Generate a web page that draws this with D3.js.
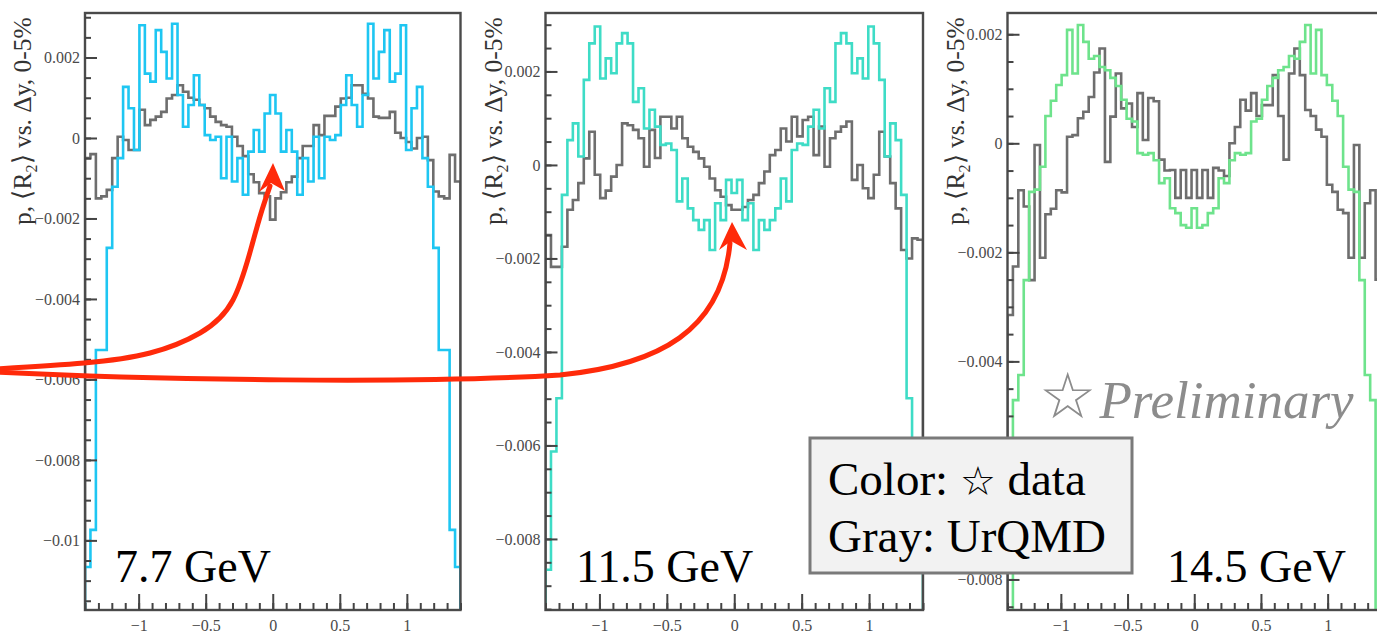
<!DOCTYPE html>
<html><head><meta charset="utf-8">
<script src="https://cdn.jsdelivr.net/npm/d3@7"></script>
<style>
html,body{margin:0;padding:0;background:#fff;}
svg{display:block;}
</style></head><body>
<svg id="chart" width="1377" height="635"></svg>
<script>
// Histogram binning in delta-y
const binLow = -1.4, binHigh = 1.4, binCount = 69;

const energies = ["7.7 GeV", "11.5 GeV", "14.5 GeV"];
const dataColors = ["#1ec6f2", "#3edcc6", "#6ee38c"];
const modelColor = "#6e6e6e";

// Bin contents, in units of 1e-3
const data77 = [-10.66, -9.74, -5.27, -5.27, -2.73, -1.21, -0.50, 1.27, 0.74, -0.30, 2.80, 1.60, 1.40, 2.68, 2.14, 1.48, 2.84, 1.07, 0.28, 0.82, 1.56, 0.82, 0.07, -0.05, 0.03, -1.00, 0.03, -1.08, -0.50, -1.41, -0.34, 0.20, -0.34, 0.61, 1.07, 0.61, -0.34, 0.20, -0.34, -1.41, -0.50, -1.08, 0.03, -1.00, 0.03, -0.05, 0.07, 0.82, 1.56, 0.82, 0.28, 1.07, 2.84, 1.48, 2.14, 2.68, 1.40, 1.60, 2.80, -0.30, 0.74, 1.27, -0.50, -1.21, -2.73, -5.27, -5.27, -9.74, -10.66];
const urqmd77 = [-0.50, -0.40, -1.50, -1.45, -1.29, -0.50, 0.03, -0.05, -0.30, -0.30, 0.70, 0.32, 0.45, 0.53, 0.65, 0.98, 1.07, 1.31, 1.15, 1.00, 0.95, 0.82, 0.74, 0.53, 0.40, 0.32, 0.28, 0.03, -0.20, -0.45, -0.90, -1.10, -1.37, -1.45, -2.03, -1.50, -1.35, -1.10, -0.96, -0.50, -0.20, -0.20, 0.32, 0.07, 0.55, 0.55, 0.78, 0.98, 1.00, 1.31, 1.31, 1.10, 0.98, 0.53, 0.50, 0.50, 0.65, 0.13, 0.00, -0.10, -0.26, 0.00, 0.03, -0.55, -1.33, -1.45, -1.50, -0.42, -1.08];

const data115 = [-8.66, -6.13, -4.99, -0.64, 0.53, 0.89, 0.18, 1.82, 2.60, 2.96, 1.85, 2.28, 1.96, 2.60, 2.82, 2.60, 1.35, 1.64, 0.78, 1.18, 0.82, 0.43, 0.46, 0.32, -0.78, -0.29, -0.93, -1.18, -1.39, -1.18, -1.82, -0.82, -1.18, -0.32, -0.60, -0.32, -1.18, -0.82, -1.82, -1.18, -1.39, -1.18, -0.93, -0.29, -0.78, 0.32, 0.46, 0.43, 0.82, 1.18, 0.78, 1.64, 1.35, 2.60, 2.82, 2.60, 1.96, 2.28, 1.85, 2.96, 2.60, 1.82, 0.18, 0.89, 0.53, -0.64, -4.99, -6.13, -8.66];
const urqmd115 = [-1.50, -2.18, -2.18, -1.75, -0.96, -0.75, -0.39, 0.14, 0.71, -0.21, -0.71, -0.55, -0.25, 0.00, 0.89, 0.85, 0.75, 0.57, -0.04, 0.75, 0.15, 1.03, 1.03, 0.78, 1.03, 0.57, 0.39, 0.28, 0.14, -0.04, -0.29, -0.54, -0.68, -0.86, -0.96, -0.96, -0.90, -0.75, -0.64, -0.39, -0.14, 0.21, 0.32, 0.78, 0.50, 1.03, 0.61, 0.96, 1.03, 0.21, 0.82, -0.04, 0.57, 0.71, 0.82, 0.93, -0.32, 0.00, -0.50, -0.71, -0.21, 0.71, 0.18, -0.39, -0.93, -1.82, -2.00, -1.57, -1.60];

const data145 = [-10.0, -4.71, -4.25, -2.51, -0.89, -0.85, -0.43, 0.50, 0.78, 1.07, 1.25, 2.08, 1.28, 2.17, 1.86, 1.55, 1.60, 1.40, 1.34, 1.20, 1.05, 0.80, 0.45, 0.40, -0.18, -0.21, -0.18, -0.31, -0.73, -0.64, -1.19, -1.28, -1.50, -1.55, -1.19, -1.55, -1.50, -1.28, -1.19, -0.64, -0.73, -0.31, -0.18, -0.21, -0.18, 0.40, 0.45, 0.80, 1.05, 1.20, 1.34, 1.40, 1.60, 1.55, 1.86, 2.17, 1.28, 2.08, 1.25, 1.07, 0.78, 0.50, -0.43, -0.85, -0.89, -2.51, -4.25, -4.71, -10.0];
const urqmd145 = [-3.15, -2.26, -0.86, -1.16, -2.51, -0.03, -2.10, -1.30, -1.20, -0.86, -0.90, 0.12, 0.15, 0.46, 0.58, 0.85, 1.30, 1.74, -0.34, 0.49, 1.28, 0.64, 0.73, 0.30, 0.92, 0.06, 0.83, 0.77, -0.30, -0.50, -0.49, -1.00, -0.49, -1.00, -0.49, -1.00, -0.49, -1.00, -0.45, -0.50, -0.60, 0.00, 0.30, 0.80, 0.60, 0.92, 0.50, 0.70, 0.70, 1.25, 0.50, -0.30, 1.28, 1.74, 1.25, 0.61, 0.50, 0.25, 0.12, -0.76, -0.89, -1.22, -1.28, -2.10, -0.03, -2.10, -1.10, -0.86, -2.50];

// Axis tick values (the -0.006 label of the last panel sits under the legend box)
const yTicks77 = [0.002, 0, -0.002, -0.004, -0.006, -0.008, -0.01];
const yTicks115 = [0.002, 0, -0.002, -0.004, -0.006, -0.008];
const yTicks145 = [0.002, 0, -0.002, -0.004, -0.008];
const xTicks = [-1, -0.5, 0, 0.5, 1];

const yTitle = ["p, \u27E8R", "2", "\u27E9 vs. \u0394y, 0-5%"];
const legendLines = ["Color: ", "\u2606", " data", "Gray: UrQMD"];
const prelimStar = "\u2606", prelimText = "Preliminary";

// Panel layout
const frameTop = 13, frameBottom = 610;
const panels = [
  { left: 85, right: 460.5, yDom: [-0.01173, 0.003106], data: data77, model: urqmd77, yTicks: yTicks77,
    color: dataColors[0], label: energies[0], labelX: 115, titleX: 31 },
  { left: 545.5, right: 923, yDom: [-0.00952, 0.00325], data: data115, model: urqmd115, yTicks: yTicks115,
    color: dataColors[1], label: energies[1], labelX: 576, titleX: 502 },
  { left: 1007.5, right: 1381, yDom: [-0.00856, 0.00239], data: data145, model: urqmd145, yTicks: yTicks145,
    color: dataColors[2], label: energies[2], labelX: 1167, titleX: 964 }
];

const svg = d3.select("#chart");
const serif = "'Liberation Serif','Times New Roman',serif";
const fmt = d3.format("~f");
const edges = d3.range(binCount + 1).map(i => binLow + i * (binHigh - binLow) / binCount);

panels.forEach((p, idx) => {
  const x = d3.scaleLinear().domain([binLow, binHigh]).range([p.left, p.right]);
  const y = d3.scaleLinear().domain(p.yDom).range([frameBottom, frameTop]);
  const g = svg.append("g");

  const clipId = "clip" + idx;
  svg.append("clipPath").attr("id", clipId).append("rect")
    .attr("x", p.left).attr("y", frameTop).attr("width", p.right - p.left).attr("height", frameBottom - frameTop);

  // Step outline of a histogram, closed down to the frame floor at both ends
  const outline = vals => {
    const pts = [[edges[0], p.yDom[0]]];
    vals.forEach((v, i) => { pts.push([edges[i], v * 1e-3]); pts.push([edges[i + 1], v * 1e-3]); });
    pts.push([edges[binCount], p.yDom[0]]);
    return d3.line().x(d => x(d[0])).y(d => y(d[1]))(pts);
  };

  const hg = g.append("g").attr("clip-path", `url(#${clipId})`);
  hg.append("path").attr("d", outline(p.model)).attr("fill", "none")
    .attr("stroke", modelColor).attr("stroke-width", 2.6).attr("stroke-linejoin", "miter");
  hg.append("path").attr("d", outline(p.data)).attr("fill", "none")
    .attr("stroke", p.color).attr("stroke-width", 2.6).attr("stroke-linejoin", "miter");

  // Frame
  g.append("rect").attr("x", p.left).attr("y", frameTop).attr("width", p.right - p.left).attr("height", frameBottom - frameTop)
    .attr("fill", "none").attr("stroke", "#4a4a4a").attr("stroke-width", 2.4);

  // Y axis, ticks pointing into the frame
  const minorY = d3.range(Math.ceil(p.yDom[0] / 0.0005), Math.floor(p.yDom[1] / 0.0005) + 1).map(k => k * 0.0005);
  const yMinor = g.append("g").attr("transform", `translate(${p.left},0)`)
    .call(d3.axisLeft(y).tickValues(minorY).tickSize(-6).tickFormat(""));
  const yMajor = g.append("g").attr("transform", `translate(${p.left},0)`)
    .call(d3.axisLeft(y).tickValues(p.yTicks).tickSize(-12).tickPadding(5).tickFormat(fmt));
  [yMinor, yMajor].forEach(a => { a.select(".domain").remove(); a.selectAll("line").attr("stroke", "#444").attr("stroke-width", 2); });
  yMajor.selectAll("text").attr("font-family", serif).attr("font-size", 16).attr("fill", "#4a4a4a");

  // X axis
  const minorX = d3.range(-14, 15).map(k => k / 10);
  const xMinor = g.append("g").attr("transform", `translate(0,${frameBottom})`)
    .call(d3.axisBottom(x).tickValues(minorX).tickSize(-7).tickFormat(""));
  const xMajor = g.append("g").attr("transform", `translate(0,${frameBottom})`)
    .call(d3.axisBottom(x).tickValues(xTicks).tickSize(-16).tickPadding(10).tickFormat(fmt));
  [xMinor, xMajor].forEach(a => { a.select(".domain").remove(); a.selectAll("line").attr("stroke", "#444").attr("stroke-width", 2); });
  xMajor.selectAll("text").attr("font-family", serif).attr("font-size", 16).attr("fill", "#4a4a4a");

  // Y title, rotated
  const t = g.append("text").attr("transform", `translate(${p.titleX},225) rotate(-90)`)
    .attr("font-family", serif).attr("font-size", 25.5).attr("fill", "#333");
  t.append("tspan").text(yTitle[0]);
  t.append("tspan").attr("font-size", 16).attr("dy", 6).text(yTitle[1]);
  t.append("tspan").attr("dy", -6).text(yTitle[2]);

  // Energy label
  g.append("text").attr("x", p.labelX).attr("y", 582).attr("font-family", serif).attr("font-size", 46)
    .attr("fill", "#000").text(p.label);
});

// Preliminary stamp
const prelim = svg.append("text").attr("x", 1039).attr("y", 418).attr("fill", "#8c8c8c");
prelim.append("tspan").attr("font-family", "'DejaVu Sans',sans-serif").attr("font-size", 64).text(prelimStar);
prelim.append("tspan").attr("font-family", serif).attr("font-style", "italic").attr("font-size", 53).attr("dx", 3).text(prelimText);

// Legend box
svg.append("rect").attr("x", 810).attr("y", 438).attr("width", 322).attr("height", 135)
  .attr("fill", "#f2f2f2").attr("stroke", "#7a7a7a").attr("stroke-width", 3);
const l1 = svg.append("text").attr("x", 828).attr("y", 495).attr("font-family", serif).attr("font-size", 47).attr("fill", "#000");
l1.append("tspan").text(legendLines[0]);
l1.append("tspan").attr("font-family", "'DejaVu Sans',sans-serif").attr("font-size", 40).text(legendLines[1]);
l1.append("tspan").text(legendLines[2]);
svg.append("text").attr("x", 828).attr("y", 552).attr("font-family", serif).attr("font-size", 47).attr("fill", "#000").text(legendLines[3]);

// Red annotation arrows: a smooth run ending in a notched head
const red = "#ff2a0a";
const arrowPaths = [
  d3.line().curve(d3.curveNatural)([[-6, 369], [84, 363], [150, 353], [200, 333], [233, 300], [252, 245], [262, 210], [270, 186]]),
  (() => {
    const pth = d3.path();
    pth.moveTo(-6, 372);
    pth.bezierCurveTo(150, 380, 420, 384, 560, 375);
    pth.bezierCurveTo(660, 365, 722, 330, 730, 243);
    return pth.toString();
  })()
];
const arrowHeads = [
  [[273, 163], [285, 191], [271, 183], [259, 192]],
  [[732, 222], [747, 250], [731, 241], [719, 250]]
];
arrowPaths.forEach((d, i) => {
  svg.append("path").attr("d", d).attr("fill", "none").attr("stroke", red)
    .attr("stroke-width", 5).attr("stroke-linecap", "round");
  svg.append("path").attr("d", d3.line()(arrowHeads[i]) + "Z").attr("fill", red);
});
</script>
</body></html>
